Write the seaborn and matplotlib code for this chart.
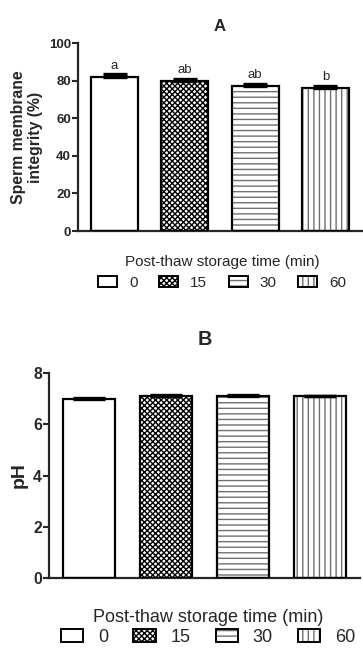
import matplotlib
matplotlib.use("Agg")
import seaborn as sns
import matplotlib.pyplot as plt
import pandas as pd
from matplotlib.patches import Rectangle
from matplotlib.legend_handler import HandlerTuple

times = ["0", "15", "30", "60"]

membrane = [82.0, 80.0, 77.0, 76.0]
membrane_err = [1.3, 1.1, 1.1, 1.0]
membrane_letters = ["a", "ab", "ab", "b"]

ph = [6.99, 7.10, 7.09, 7.09]
ph_err = [0.03, 0.04, 0.03, 0.02]

hatches = ["", "xxxxxx", "---", "|||"]
hatch_colors = ["black", "black", "#707070", "#707070"]

sns.set_style("ticks")
plt.rcParams["font.family"] = ["Liberation Sans", "DejaVu Sans"]
plt.rcParams["hatch.linewidth"] = 1.0


def panel(ax, values, errors, ylabel, title, ymax, yticks, fs, yfs, capsize, tpad, letters=None):
    df = pd.DataFrame({"time": times, "value": values})
    sns.barplot(data=df, x="time", y="value", hue="time", order=times,
                hue_order=times, palette=["white"] * 4, saturation=1,
                width=0.67, errorbar=None, legend=False, ax=ax)
    bars = list(ax.patches)
    handles = []
    for bar, h, hc in zip(bars, hatches, hatch_colors):
        bar.set_hatch(h)
        bar.set_edgecolor(hc)
        bar.set_linewidth(0)
        # black outline on top of the grey hatching
        outline = Rectangle(bar.get_xy(), bar.get_width(), bar.get_height(),
                            fill=False, ec="black", lw=1.6, zorder=3)
        ax.add_patch(outline)
        handles.append((Rectangle((0, 0), 1, 1, fc="white", hatch=h, ec=hc, lw=0),
                        Rectangle((0, 0), 1, 1, fill=False, ec="black", lw=1.4)))
    xs = [b.get_x() + b.get_width() / 2 for b in bars]
    ax.errorbar(xs, values, yerr=[[0] * len(values), errors], fmt="none",
                ecolor="black", elinewidth=2, capsize=capsize, capthick=2.4, zorder=4)
    if letters:
        for x, v, e, t in zip(xs, values, errors, letters):
            ax.annotate(t, (x, v + e), xytext=(0, 2), textcoords="offset points",
                        ha="center", va="bottom", fontsize=9.5)
    ax.set_xlim(-0.52, 3.52)
    ax.set_ylim(0, ymax)
    ax.set_yticks(yticks)
    ax.set_xticks([])
    ax.set_xlabel("")
    ax.set_ylabel(ylabel, fontsize=yfs, fontweight="bold", labelpad=4)
    ax.set_title(title, fontsize=fs * 1.1, fontweight="bold", pad=tpad)
    for lab in ax.get_yticklabels():
        lab.set_fontweight("bold")
        lab.set_fontsize(fs * 0.87)
    ax.tick_params(axis="y", length=4, width=1.5, pad=1)
    sns.despine(ax=ax)
    for s in ["left", "bottom"]:
        ax.spines[s].set_linewidth(1.6)
    return handles


fig = plt.figure(figsize=(3.63, 6.5), dpi=100)
ax_a = fig.add_axes([0.2149, 0.6446, 0.7824, 0.2892])
ax_b = fig.add_axes([0.135, 0.1103, 0.857, 0.3163])

h_a = panel(ax_a, membrane, membrane_err, "Sperm membrane\nintegrity (%)", "A",
            100, [0, 20, 40, 60, 80, 100], 11, 11.3, 8.3, 8.5, membrane_letters)
h_b = panel(ax_b, ph, ph_err, "pH", "B", 8, [0, 2, 4, 6, 8], 13, 14, 11.5, 20)

for ax, handles, fs, anchor, lsp in [(ax_a, h_a, 11, (0.612, 0.581), 0.5),
                                     (ax_b, h_b, 13, (0.573, 0.0345), 0.12)]:
    leg = fig.legend(handles, times, loc="center", bbox_to_anchor=anchor, ncol=4,
                     frameon=False, fontsize=fs, title="Post-thaw storage time (min)",
                     title_fontsize=fs, handlelength=1.25, handleheight=0.7,
                     handletextpad=0.8, columnspacing=1.4, labelspacing=lsp,
                     handler_map={tuple: HandlerTuple(ndivide=1, pad=0)})

fig.savefig("out.png", dpi=100)
